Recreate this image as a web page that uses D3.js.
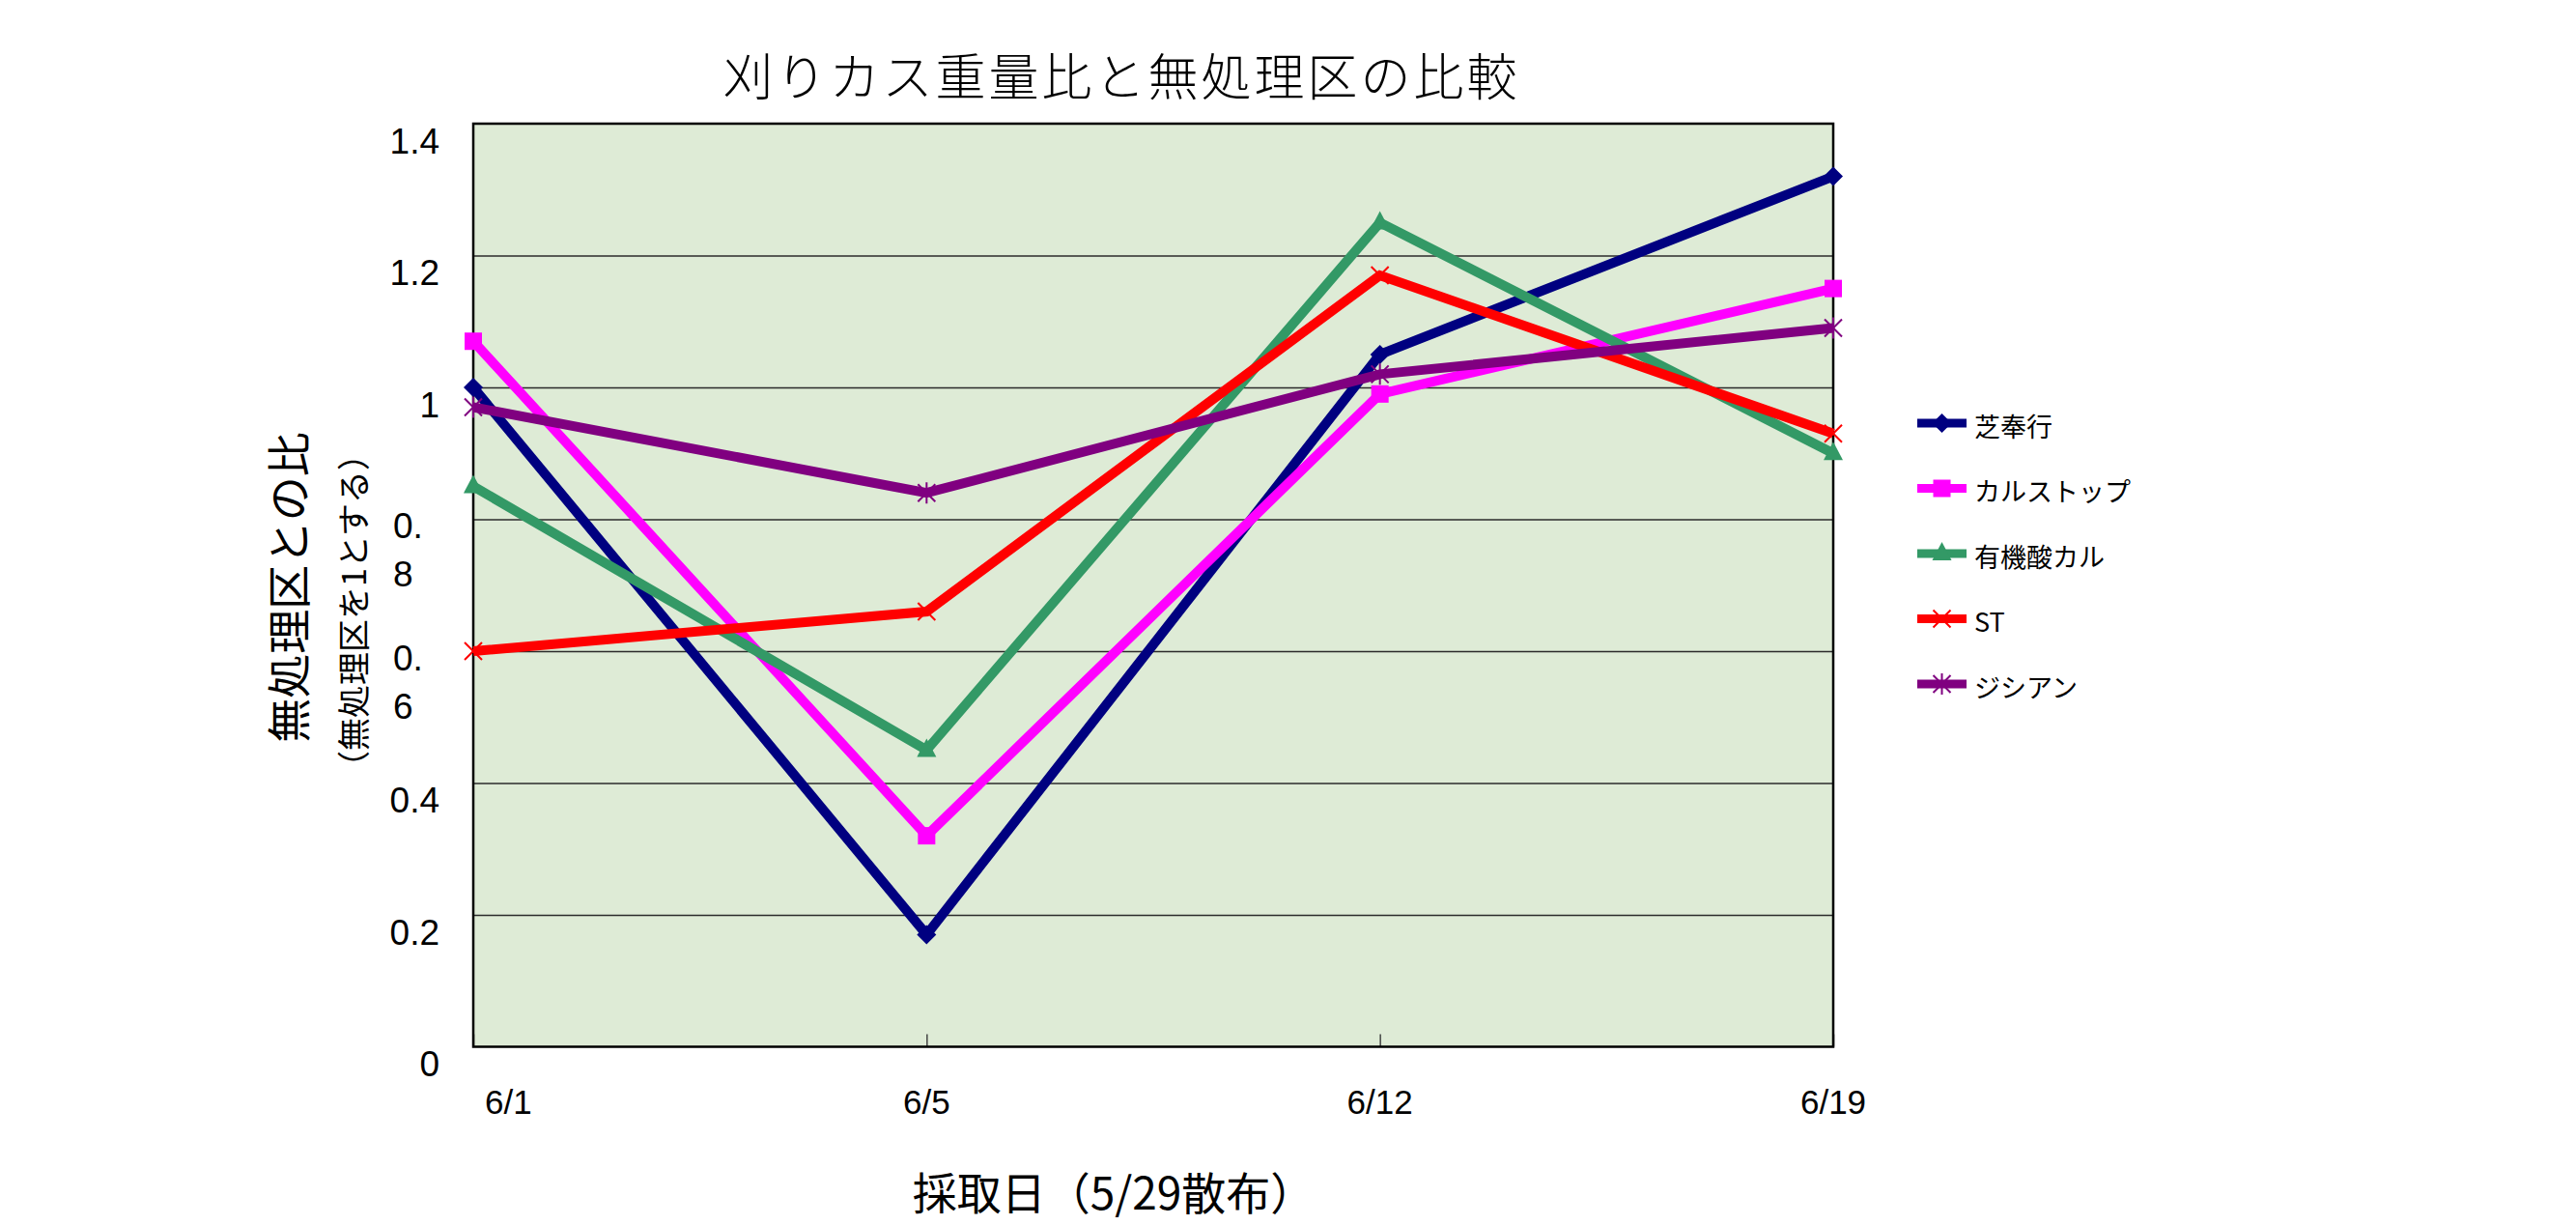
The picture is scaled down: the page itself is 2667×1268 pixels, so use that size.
<!DOCTYPE html>
<html>
<head>
<meta charset="utf-8">
<script src="https://cdn.jsdelivr.net/npm/d3@7/dist/d3.min.js"></script>
<style>
  html, body { margin: 0; padding: 0; background: #ffffff; }
  svg { display: block; }
</style>
</head>
<body>
<script>
// ---------- data ----------
const categories = ["6/1", "6/5", "6/12", "6/19"];
const seriesNames = ["芝奉行", "カルストップ", "有機酸カル", "ST", "ジシアン"];
const shibaBugyo = [1.00, 0.17, 1.05, 1.32];
const calStop    = [1.07, 0.32, 0.99, 1.15];
const yukiSanCal = [0.85, 0.45, 1.25, 0.90];
const stValues   = [0.60, 0.66, 1.17, 0.93];
const jishian    = [0.97, 0.84, 1.02, 1.09];
const yTicks = [0, 0.2, 0.4, 0.6, 0.8, 1, 1.2, 1.4];
const yTickLabels = ["0", "0.2", "0.4", "0.\n6", "0.\n8", "1", "1.2", "1.4"];
const titleText = "刈りカス重量比と無処理区の比較";
const yTitle1 = "無処理区との比";
const yTitle2 = "（無処理区を1とする）";
const xTitle = "採取日（5/29散布）";

// ---------- styles ----------
const seriesValues = [shibaBugyo, calStop, yukiSanCal, stValues, jishian];
const colors = ["#000080", "#FF00FF", "#339966", "#FF0000", "#800080"];
const markers = ["diamond", "square", "triangle", "x", "star"];
const jpFont = "'Noto Sans CJK JP', 'Noto Sans', sans-serif";
const numFont = "'Liberation Sans', Arial, sans-serif";

const W = 2667, H = 1268;
const plot = { left: 490, right: 1898, top: 128, bottom: 1083.5 };

const svg = d3.select("body").append("svg")
  .attr("width", W).attr("height", H)
  .attr("viewBox", `0 0 ${W} ${H}`);

svg.append("rect").attr("width", W).attr("height", H).attr("fill", "#ffffff");

const x = d3.scalePoint().domain(categories).range([plot.left, plot.right]).padding(0);
const y = d3.scaleLinear().domain([0, 1.4]).range([plot.bottom, plot.top]);

// plot background
svg.append("rect")
  .attr("x", plot.left).attr("y", plot.top)
  .attr("width", plot.right - plot.left).attr("height", plot.bottom - plot.top)
  .attr("fill", "#DEEBD6");

// gridlines
const grid = svg.append("g")
  .attr("transform", `translate(${plot.left},0)`)
  .call(d3.axisLeft(y).tickValues(yTicks.filter(v => v > 0 && v < 1.4))
    .tickSize(-(plot.right - plot.left)).tickFormat(""));
grid.select(".domain").remove();
grid.selectAll("line").attr("stroke", "#2b2b2b").attr("stroke-width", 1.5);

// x axis inward ticks
const xa = svg.append("g")
  .attr("transform", `translate(0,${plot.bottom})`)
  .call(d3.axisBottom(x).tickSize(-13).tickFormat(""));
xa.select(".domain").remove();
xa.selectAll("line").attr("stroke", "#444").attr("stroke-width", 1.5);

// plot border
svg.append("rect")
  .attr("x", plot.left).attr("y", plot.top)
  .attr("width", plot.right - plot.left).attr("height", plot.bottom - plot.top)
  .attr("fill", "none").attr("stroke", "#000").attr("stroke-width", 2.5);

// y tick labels
yTicks.forEach((v, i) => {
  const lab = yTickLabels[i];
  const parts = lab.split("\n");
  if (parts.length === 1) {
    svg.append("text")
      .attr("x", 455).attr("y", y(v) + 18)
      .attr("text-anchor", "end").attr("dominant-baseline", "central")
      .attr("font-family", numFont).attr("font-size", 37).attr("fill", "#000")
      .text(lab);
  } else {
    parts.forEach((p, j) => {
      svg.append("text")
        .attr("x", 407).attr("y", y(v) + 7 + j * 50)
        .attr("text-anchor", "start").attr("dominant-baseline", "central")
        .attr("font-family", numFont).attr("font-size", 37).attr("fill", "#000")
        .text(p);
    });
  }
});

// x tick labels
categories.forEach(c => {
  const t = svg.append("text")
    .attr("x", x(c)).attr("y", 1140)
    .attr("text-anchor", "middle").attr("dominant-baseline", "central")
    .attr("font-family", numFont).attr("font-size", 35).attr("fill", "#000")
    .text(c);
  const bb = t.node().getBBox();
  if (bb.x < plot.left + 12) {
    t.attr("text-anchor", "start").attr("x", plot.left + 12);
  }
});

// title
svg.append("text")
  .attr("x", 1161).attr("y", 76)
  .attr("text-anchor", "middle").attr("dominant-baseline", "central")
  .attr("font-family", jpFont).attr("font-size", 52).attr("font-weight", 300)
  .attr("letter-spacing", 3)
  .attr("fill", "#000").text(titleText);

// y titles
svg.append("text")
  .attr("transform", "translate(296,608) rotate(-90)")
  .attr("text-anchor", "middle").attr("dominant-baseline", "central")
  .attr("font-family", jpFont).attr("font-size", 46).attr("fill", "#000")
  .text(yTitle1);
svg.append("text")
  .attr("transform", "translate(364,632) rotate(-90)")
  .attr("text-anchor", "middle").attr("dominant-baseline", "central")
  .attr("font-family", jpFont).attr("font-size", 34).attr("fill", "#000")
  .text(yTitle2);

// x title
svg.append("text")
  .attr("x", 1153).attr("y", 1232)
  .attr("text-anchor", "middle").attr("dominant-baseline", "central")
  .attr("font-family", jpFont).attr("font-size", 46).attr("fill", "#000")
  .text(xTitle);

// marker drawing
function drawMarker(g, type, cx, cy, color) {
  if (type === "diamond") {
    g.append("path").attr("d", `M${cx},${cy - 10}L${cx + 10},${cy}L${cx},${cy + 10}L${cx - 10},${cy}Z`)
      .attr("fill", color);
  } else if (type === "square") {
    g.append("rect").attr("x", cx - 9).attr("y", cy - 9).attr("width", 18).attr("height", 18)
      .attr("fill", color);
  } else if (type === "triangle") {
    g.append("path").attr("d", `M${cx},${cy - 12}L${cx + 10},${cy + 7}L${cx - 10},${cy + 7}Z`)
      .attr("fill", color);
  } else if (type === "x") {
    g.append("path").attr("d", `M${cx - 9},${cy - 9}L${cx + 9},${cy + 9}M${cx - 9},${cy + 9}L${cx + 9},${cy - 9}`)
      .attr("stroke", color).attr("stroke-width", 2).attr("fill", "none");
  } else if (type === "star") {
    g.append("path").attr("d", `M${cx - 9},${cy - 9}L${cx + 9},${cy + 9}M${cx - 9},${cy + 9}L${cx + 9},${cy - 9}M${cx},${cy - 11}L${cx},${cy + 11}`)
      .attr("stroke", color).attr("stroke-width", 2).attr("fill", "none");
  }
}

// series lines
const line = d3.line().x((d, i) => x(categories[i])).y(d => y(d));
const linesG = svg.append("g");
seriesValues.forEach((vals, s) => {
  linesG.append("path")
    .datum(vals)
    .attr("d", line)
    .attr("fill", "none")
    .attr("stroke", colors[s])
    .attr("stroke-width", 10)
    .attr("stroke-linejoin", "miter");
});
const markG = svg.append("g");
seriesValues.forEach((vals, s) => {
  vals.forEach((v, i) => drawMarker(markG, markers[s], x(categories[i]), y(v), colors[s]));
});

// legend
const legend = svg.append("g");
seriesNames.forEach((name, i) => {
  const ly = 438 + i * 67.5;
  legend.append("line")
    .attr("x1", 1985).attr("x2", 2036).attr("y1", ly).attr("y2", ly)
    .attr("stroke", colors[i]).attr("stroke-width", 9);
  drawMarker(legend, markers[i], 2010.5, ly, colors[i]);
  legend.append("text")
    .attr("x", 2044).attr("y", ly + 2)
    .attr("dominant-baseline", "central")
    .attr("font-family", jpFont).attr("font-size", 27).attr("fill", "#000")
    .text(name);
});
</script>
</body>
</html>
